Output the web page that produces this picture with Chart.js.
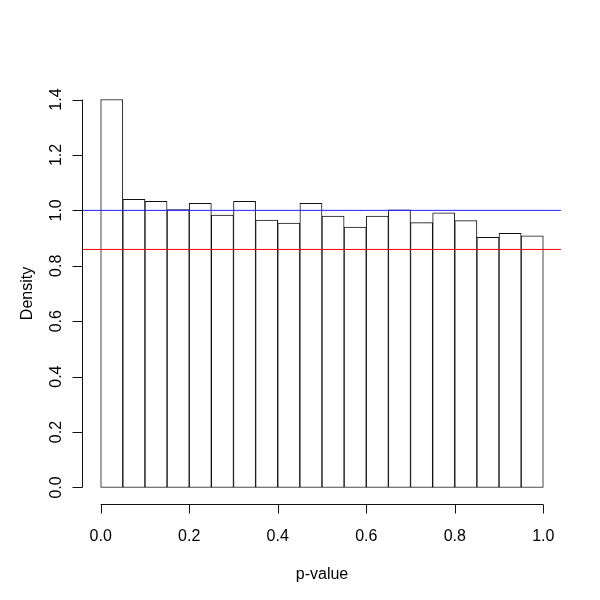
<!DOCTYPE html>
<html>
<head>
<meta charset="utf-8">
<script src="https://cdn.jsdelivr.net/npm/chart.js@4.4.1/dist/chart.umd.min.js"></script>
<style>
  html, body { margin: 0; padding: 0; background: #fff; }
  #wrap { width: 600px; height: 600px; }
</style>
</head>
<body>
<div id="wrap"><canvas id="myChart" width="600" height="600"></canvas></div>
<script>
// histogram bins (centres of 0.05 wide bins)
var binMids = [0.025, 0.075, 0.125, 0.175, 0.225, 0.275, 0.325, 0.375, 0.425, 0.475,
               0.525, 0.575, 0.625, 0.675, 0.725, 0.775, 0.825, 0.875, 0.925, 0.975];
var density = [1.400, 1.040, 1.033, 1.003, 1.025, 0.983, 1.033, 0.965, 0.954, 1.025,
               0.979, 0.940, 0.979, 1.002, 0.956, 0.991, 0.963, 0.903, 0.917, 0.908];
var xTicks = [0.0, 0.2, 0.4, 0.6, 0.8, 1.0];
var yTicks = [0.0, 0.2, 0.4, 0.6, 0.8, 1.0, 1.2, 1.4];
var xRange = [-0.04, 1.04];
var yRange = [-0.056, 1.456];
var uniformLevel = 1.0;
var meanLevel = 0.859;
var xTitle = 'p-value';
var yTitle = 'Density';

var font = '16px "Liberation Sans", Arial, sans-serif';

// R style axes drawn with the chart's own scales
const rAxes = {
    id: 'rAxes',
    afterDraw: function(chart) {
        const c = chart.ctx;
        const xs = chart.scales.x, ys = chart.scales.y, area = chart.chartArea;
        c.save();
        c.strokeStyle = '#111';
        c.lineWidth = 1;
        c.fillStyle = '#000';
        c.font = font;

        // x axis
        var yA = Math.round(area.bottom) + 1.5;
        c.beginPath();
        c.moveTo(xs.getPixelForValue(xTicks[0]), yA);
        c.lineTo(xs.getPixelForValue(xTicks[xTicks.length - 1]), yA);
        c.textAlign = 'center';
        c.textBaseline = 'middle';
        xTicks.forEach(function(v) {
            var px = Math.round(xs.getPixelForValue(v)) + 0.5;
            c.moveTo(px, yA);
            c.lineTo(px, yA + 9);
        });
        c.stroke();
        xTicks.forEach(function(v) {
            c.fillText(v.toFixed(1), xs.getPixelForValue(v), yA + 32);
        });
        c.fillText(xTitle, (area.left + area.right) / 2, yA + 70);

        // y axis
        var xA = Math.round(area.left) - 0.5;
        c.beginPath();
        c.moveTo(xA, ys.getPixelForValue(yTicks[0]));
        c.lineTo(xA, ys.getPixelForValue(yTicks[yTicks.length - 1]));
        yTicks.forEach(function(v) {
            var py = Math.round(ys.getPixelForValue(v)) + 0.5;
            c.moveTo(xA, py);
            c.lineTo(xA - 10, py);
        });
        c.stroke();
        yTicks.forEach(function(v) {
            c.save();
            c.translate(xA - 26, ys.getPixelForValue(v));
            c.rotate(-Math.PI / 2);
            c.fillText(v.toFixed(1), 0, 0);
            c.restore();
        });
        c.save();
        c.translate(28, (area.top + area.bottom) / 2);
        c.rotate(-Math.PI / 2);
        c.fillText(yTitle, 0, 0);
        c.restore();
        c.restore();
    }
};

const ctx = document.getElementById('myChart').getContext('2d');
const myChart = new Chart(ctx, {
    type: 'bar',
    data: {
        datasets: [{
            type: 'line',
            data: [{x: xRange[0], y: uniformLevel}, {x: xRange[1], y: uniformLevel}],
            borderColor: '#2020ff',
            borderWidth: 1,
            pointRadius: 0,
            fill: false
        }, {
            type: 'line',
            data: [{x: xRange[0], y: meanLevel}, {x: xRange[1], y: meanLevel}],
            borderColor: '#ff0000',
            borderWidth: 1,
            pointRadius: 0,
            fill: false
        }, {
            type: 'bar',
            data: binMids.map(function(m, i) { return {x: m, y: density[i]}; }),
            backgroundColor: '#ffffff',
            borderColor: '#111111',
            borderWidth: 1,
            borderSkipped: false,
            barPercentage: 1,
            categoryPercentage: 1
        }]
    },
    options: {
        responsive: false,
        animation: false,
        layout: { padding: { left: 83, right: 39, top: 84, bottom: 97 } },
        plugins: { legend: { display: false }, tooltip: { enabled: false } },
        scales: {
            x: {
                type: 'linear',
                display: false,
                offset: false,
                min: xRange[0],
                max: xRange[1],
                afterBuildTicks: function(scale) {
                    scale.ticks = xTicks.map(function(v) { return {value: v}; });
                }
            },
            y: {
                type: 'linear',
                display: false,
                min: yRange[0],
                max: yRange[1]
            }
        }
    },
    plugins: [rAxes]
});
</script>
</body>
</html>
